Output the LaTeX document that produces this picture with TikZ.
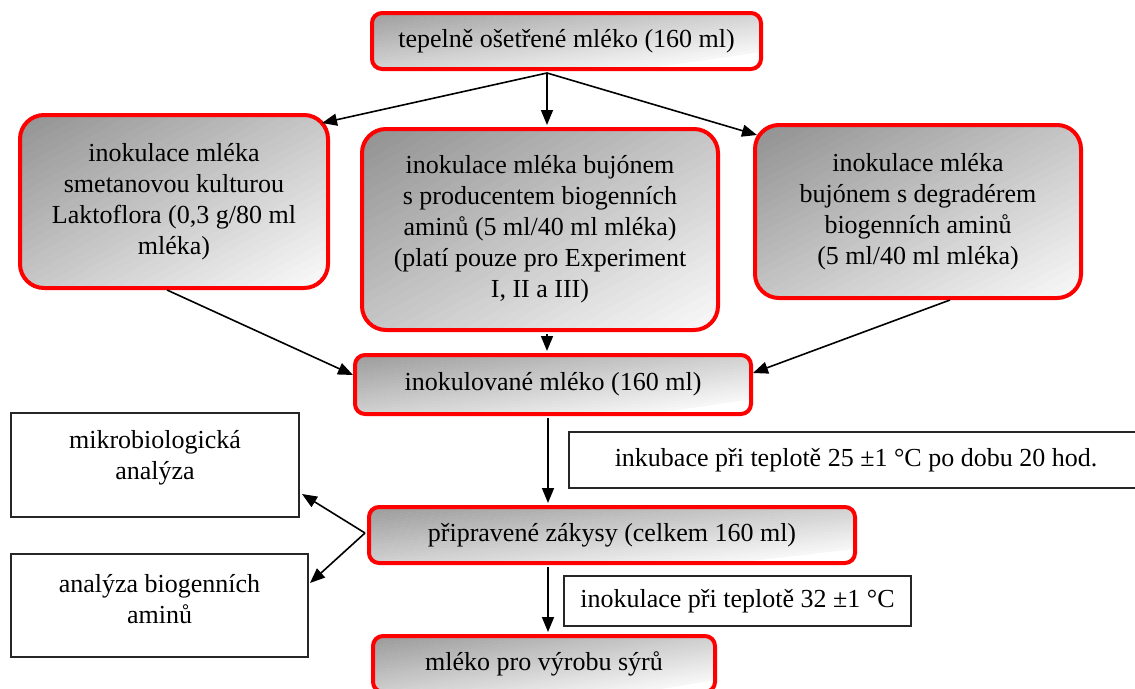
\documentclass[tikz,border=0pt]{standalone}
\usepackage{fontspec}
\setmainfont{Liberation Serif}
\usetikzlibrary{arrows.meta}
\tikzset{
  gshade/.style={path picture={
    \pgfpointdiff{\pgfpointanchor{path picture bounding box}{south west}}{\pgfpointanchor{path picture bounding box}{north east}}%
    \pgfgetlastxy{\gw}{\gh}%
    \pgfmathsetlengthmacro{\gwh}{\gw/2}%
    \pgfmathsetlengthmacro{\ghh}{\gh/2}%
    \begin{scope}[shift={(path picture bounding box.center)}, x=\gwh, y=\ghh]
      \foreach \i in {0,...,39}{
        \pgfmathsetmacro{\ca}{-2.02+\i*0.101}%
        \pgfmathsetmacro{\cb}{\ca+0.115}%
        \pgfmathsetmacro{\ha}{\ca/2}%
        \pgfmathsetmacro{\hb}{\cb/2}%
        \pgfmathsetmacro{\na}{0-\ca/2}%
        \pgfmathsetmacro{\nb}{0-\cb/2}%
        \pgfmathsetmacro{\pc}{45-42*(\i+0.5)/40}%
        \fill[black!\pc] (\ha-3,\na-3) -- (\ha+3,\na+3) -- (\hb+3,\nb+3) -- (\hb-3,\nb-3) -- cycle;
      }
    \end{scope}
  }},
  rbox/.style={draw=red, line width=4pt, rounded corners=10pt, gshade,
    align=center, inner sep=0pt, font=\fontsize{26}{31}\selectfont},
  bigr/.style={rbox, rounded corners=24pt},
  wbox/.style={draw=black!85, line width=2pt, fill=white, inner sep=0pt,
    align=center, font=\fontsize{26}{31}\selectfont},
  txt/.style={align=center, inner sep=0pt, font=\fontsize{26}{31}\selectfont},
  arr/.style={line width=1.6pt, -{Triangle[length=15pt,width=12pt]}}
}
\begin{document}
\begin{tikzpicture}[x=1pt,y=-1pt]
\useasboundingbox (0,0) rectangle (1135,688);
\clip (0,0) rectangle (1135,688);

\node[rbox, minimum width=389pt, minimum height=56pt] (top) at (566.5,41) {tepelně ošetřené mléko (160 ml)};
\node[bigr, minimum width=308pt, minimum height=173pt] (left) at (174,201.5) {inokulace mléka\\smetanovou kulturou\\Laktoflora (0,3 g/80 ml\\mléka)};
\node[bigr, minimum width=356pt, minimum height=201pt] (mid) at (540,229.5) {inokulace mléka bujónem\\s producentem biogenních\\aminů (5 ml/40 ml mléka)\\(platí pouze pro Experiment\\I, II a III)};
\node[bigr, minimum width=326pt, minimum height=173pt] (right) at (918,211.5) {inokulace mléka\\bujónem s degradérem\\biogenních aminů\\(5 ml/40 ml mléka)};
\node[rbox, minimum width=396pt, minimum height=59pt] (inok) at (553,384.5) {inokulované mléko (160 ml)};
\node[wbox, minimum width=574pt, minimum height=56pt] (inkub) at (856,460) {inkubace při teplotě 25 ±1 °C po dobu 20 hod.};
\node[wbox, minimum width=288pt, minimum height=104pt] (mikro) at (155,465) {};
\node[txt] (mikrot) at (155,458) {mikrobiologická\\analýza};
\node[wbox, minimum width=297pt, minimum height=103pt] (anal) at (159.5,605.5) {};
\node[txt] (analt) at (159.5,599) {analýza biogenních\\aminů};
\node[rbox, minimum width=486pt, minimum height=56pt] (zak) at (612,535) {připravené zákysy (celkem 160 ml)};
\node[wbox, minimum width=347pt, minimum height=50pt] (inok32) at (737.5,601) {inokulace při teplotě 32 ±1 °C};
\node[rbox, minimum width=342pt, minimum height=56pt] (mleko) at (544,664) {mléko pro výrobu sýrů};

\draw[arr] ([xshift=-19.5pt,yshift=-2pt]top.south) -- ([xshift=-8pt,yshift=-10pt]left.north east);
\draw[arr] ([xshift=-19.5pt,yshift=-2pt]top.south) -- ([xshift=7pt,yshift=2pt]mid.north);
\draw[arr] ([xshift=-19.5pt,yshift=-2pt]top.south) -- ([xshift=4pt,yshift=-12pt]right.north west);
\draw[arr] ([xshift=-7pt]left.south) -- ([yshift=9.5pt]inok.west);
\draw[arr] ([xshift=7pt,yshift=-2pt]mid.south) -- ([xshift=-6pt,yshift=2pt]inok.north);
\draw[arr] ([xshift=32pt]right.south) -- ([yshift=11.5pt]inok.east);
\draw[arr] ([xshift=-5pt,yshift=-2pt]inok.south) -- ([xshift=-64pt,yshift=2pt]zak.north);
\draw[arr] ([xshift=-2pt,yshift=2pt]zak.west) -- ([xshift=2pt,yshift=-29pt]mikro.east);
\draw[arr] ([xshift=-2pt,yshift=2pt]zak.west) -- ([xshift=1pt,yshift=22.5pt]anal.east);
\draw[arr] ([xshift=-64pt,yshift=-2pt]zak.south) -- ([xshift=4pt,yshift=2pt]mleko.north);
\end{tikzpicture}
\end{document}
